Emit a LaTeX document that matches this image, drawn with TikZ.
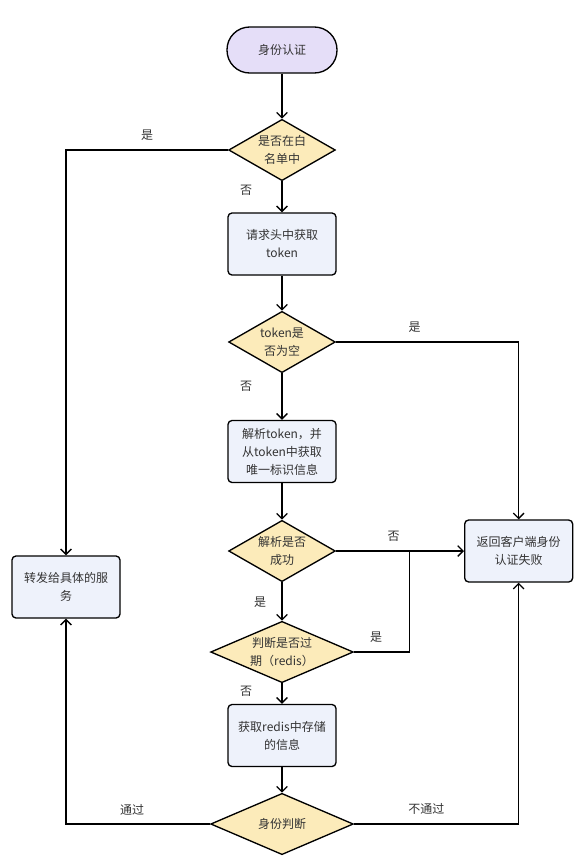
\documentclass[tikz,border=0pt]{standalone}
\usepackage{fontspec}
\setmainfont{Noto Sans CJK SC}
\usepackage{xcolor}
\usepackage{tikz}
\usetikzlibrary{arrows.meta,positioning,shapes.geometric}
\definecolor{ink}{HTML}{333333}
\definecolor{lav}{HTML}{E5DEF8}
\definecolor{sand}{HTML}{FCEBBA}
\definecolor{pale}{HTML}{EEF2FB}
\tikzset{
  box/.style   = {rectangle, rounded corners=3pt, draw=black, line width=1pt,
                  fill=pale, align=center, minimum width=81pt, minimum height=46.5pt,
                  inner sep=2pt, text=ink, font=\fontsize{9}{13.5}\selectfont},
  term/.style  = {box, fill=lav, rounded corners=17pt, minimum width=82.5pt,
                  minimum height=34.5pt},
  ask/.style   = {diamond, draw=black, line width=1pt, fill=sand, align=center,
                  shape aspect=1.7, inner sep=0pt, minimum width=80pt,
                  minimum height=46pt, text=ink, font=\fontsize{9}{13.5}\selectfont},
  wide/.style  = {ask, shape aspect=2.2, minimum width=107pt},
  fl/.style    = {-{Straight Barb[length=4pt,width=8pt]}, line width=1pt},
  ln/.style    = {line width=1pt},
  lbl/.style   = {text=ink, font=\fontsize{9}{11}\selectfont},
}

\begin{document}
\begin{tikzpicture}[x=0.75pt, y=-0.75pt]
    \fill[white] (0,0) rectangle (582,864);
    \useasboundingbox (0,0) rectangle (582,864);
    \node[term] (auth)    at (282,50)    {身份认证};
    \node[ask]  (white)   at (282,150)   {是否在白\\名单中};
    \node[box]  (gettok)  at (282,244)   {请求头中获取\\token};
    \node[ask]  (empty)   at (282,342)   {token是\\否为空};
    \node[box]  (parse)   at (282,451.5) {解析token，并\\从token中获取\\唯一标识信息};
    \node[ask]  (ok)      at (282,551)   {解析是否\\成功};
    \node[wide] (expire)  at (282,652)   {判断是否过\\期（redis）};
    \node[box]  (getinfo) at (282,735.5) {获取redis中存储\\的信息};
    \node[wide] (judge)   at (282,824)   {身份判断};
    \node[box, right=96pt of ok] (fail) {返回客户端身份\\认证失败};
    \node[box]  (fwd)     at (66,587)    {转发给具体的服\\务};
    \path (ok.east) ++(73.5,0) coordinate (meet);

    \draw[fl] (auth) -- (white);
    \draw[fl] (white) -- (gettok) node[lbl, pos=0.3, xshift=-27pt] {否};
    \draw[fl] (white.west) -| (fwd.north) node[lbl, pos=0.25, above=3pt] {是};
    \draw[fl] (gettok) -- (empty);
    \draw[fl] (empty) -- (parse) node[lbl, pos=0.27, xshift=-27pt] {否};
    \draw[fl] (empty.east) -| (fail.north) node[lbl, pos=0.215, above=3pt] {是};
    \draw[fl] (parse) -- (ok);
    \draw[fl] (ok.east) -- (fail.west) node[lbl, pos=0.45, above=3pt] {否};
    \draw[fl] (ok) -- (expire) node[lbl, pos=0.53, xshift=-16.5pt] {是};
    \draw[ln] (expire.east) -| (meet) node[lbl, pos=0.2, above=3pt] {是};
    \draw[fl] (expire) -- (getinfo) node[lbl, pos=0.4, xshift=-27pt] {否};
    \draw[fl] (getinfo) -- (judge);
    \draw[fl] (judge.west) -| (fwd.south) node[lbl, pos=0.27, above=3pt] {通过};
    \draw[fl] (judge.east) -| (fail.south) node[lbl, pos=0.22, above=3pt] {不通过};
\end{tikzpicture}
\end{document}
